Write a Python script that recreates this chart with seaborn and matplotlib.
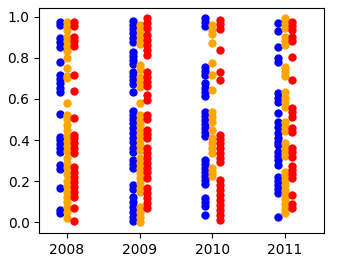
import matplotlib
matplotlib.use("Agg")
import matplotlib.pyplot as plt
import matplotlib.transforms as mtransforms
import pandas as pd
import seaborn as sns

years = ["2008", "2009", "2010", "2011"]
groups = ["blue", "orange", "red"]
colors = ["blue", "orange", "red"]

blue_2008 = [0.976, 0.96, 0.895, 0.879, 0.854, 0.778, 0.717, 0.697, 0.676, 0.652,
             0.632, 0.525, 0.417, 0.40, 0.379, 0.36, 0.344, 0.279, 0.26, 0.165,
             0.06, 0.044]
blue_2009 = [0.979, 0.96, 0.94, 0.919, 0.898, 0.879, 0.83, 0.81, 0.79, 0.769,
             0.733, 0.713, 0.692, 0.671, 0.632, 0.541, 0.522, 0.502, 0.481, 0.457,
             0.433, 0.408, 0.389, 0.36, 0.34, 0.303, 0.282, 0.263, 0.181, 0.162,
             0.125, 0.10, 0.076, 0.052, 0.027, 0.006]
blue_2010 = [0.995, 0.976, 0.952, 0.757, 0.736, 0.717, 0.676, 0.655, 0.632, 0.616,
             0.538, 0.519, 0.498, 0.477, 0.457, 0.438, 0.421, 0.303, 0.282, 0.263,
             0.243, 0.224, 0.204, 0.185, 0.12, 0.10, 0.081, 0.036]
blue_2011 = [0.968, 0.93, 0.854, 0.798, 0.778, 0.627, 0.606, 0.587, 0.53, 0.486,
             0.465, 0.433, 0.412, 0.392, 0.376, 0.344, 0.324, 0.303, 0.279, 0.222,
             0.201, 0.181, 0.162, 0.141, 0.028]

orange_2008 = [0.976, 0.955, 0.935, 0.90, 0.88, 0.855, 0.835, 0.80, 0.75, 0.71,
               0.70, 0.58, 0.52, 0.50, 0.475, 0.45, 0.42, 0.395, 0.37, 0.345,
               0.315, 0.29, 0.27, 0.235, 0.20, 0.175, 0.15, 0.125, 0.10, 0.075,
               0.05, 0.02]
orange_2009 = [0.96, 0.935, 0.911, 0.887, 0.866, 0.765, 0.746, 0.708, 0.684, 0.66,
               0.579, 0.522, 0.498, 0.473, 0.449, 0.425, 0.40, 0.376, 0.352, 0.311,
               0.287, 0.263, 0.238, 0.214, 0.19, 0.165, 0.146, 0.076, 0.052, 0.027,
               0.003]
orange_2010 = [0.96, 0.935, 0.914, 0.871, 0.773, 0.717, 0.644, 0.538, 0.514, 0.49,
               0.449, 0.408, 0.384, 0.36, 0.336, 0.263, 0.243, 0.224]
orange_2011 = [0.992, 0.968, 0.944, 0.903, 0.882, 0.862, 0.757, 0.733, 0.713, 0.632,
               0.606, 0.584, 0.562, 0.49, 0.465, 0.444, 0.384, 0.363, 0.344, 0.324,
               0.246, 0.227, 0.206, 0.181, 0.157, 0.136, 0.113, 0.089, 0.065, 0.044]

red_2008 = [0.976, 0.956, 0.903, 0.882, 0.859, 0.717, 0.639, 0.506, 0.425, 0.409,
            0.384, 0.36, 0.339, 0.271, 0.246, 0.222, 0.198, 0.173, 0.149, 0.125,
            0.068, 0.006]
red_2009 = [0.992, 0.968, 0.943, 0.911, 0.887, 0.862, 0.838, 0.814, 0.733, 0.708,
            0.684, 0.665, 0.619, 0.595, 0.522, 0.502, 0.449, 0.428, 0.412, 0.36,
            0.336, 0.311, 0.287, 0.263, 0.243, 0.214, 0.165, 0.141, 0.117, 0.092,
            0.068]
red_2010 = [0.984, 0.963, 0.94, 0.838, 0.733, 0.692, 0.425, 0.405, 0.384, 0.36,
            0.336, 0.314, 0.295, 0.206, 0.181, 0.157, 0.133, 0.108, 0.084, 0.06,
            0.036, 0.011]
red_2011 = [0.976, 0.956, 0.935, 0.903, 0.882, 0.806, 0.692, 0.554, 0.535, 0.514,
            0.457, 0.438, 0.36, 0.34, 0.319, 0.276, 0.254, 0.233, 0.214, 0.133,
            0.087, 0.068]

series = {
    "blue": [blue_2008, blue_2009, blue_2010, blue_2011],
    "orange": [orange_2008, orange_2009, orange_2010, orange_2011],
    "red": [red_2008, red_2009, red_2010, red_2011],
}

rows = []
for g in groups:
    for yr, vals in zip(years, series[g]):
        for v in vals:
            rows.append({"year": yr, "value": v, "group": g})
df = pd.DataFrame(rows)

fig, ax = plt.subplots(figsize=(3.45, 2.64), dpi=100)
fig.subplots_adjust(left=0.114, right=0.939, bottom=0.116, top=0.969)

shifts = [-0.072, 0.0, 0.072]
for g, c, dx in zip(groups, colors, shifts):
    tr = ax.transData + mtransforms.ScaledTranslation(dx, 0, fig.dpi_scale_trans)
    sns.stripplot(data=df[df["group"] == g], x="year", y="value", order=years,
                  color=c, jitter=False, size=6, linewidth=0, ax=ax,
                  transform=tr)

ax.set_xlim(-0.381, 3.535)
ax.set_ylim(-0.0535, 1.041)
ax.set_yticks([0.0, 0.2, 0.4, 0.6, 0.8, 1.0])
ax.set_xlabel("")
ax.set_ylabel("")
for s in ax.spines.values():
    s.set_visible(True)

fig.savefig("out.png", dpi=100)
